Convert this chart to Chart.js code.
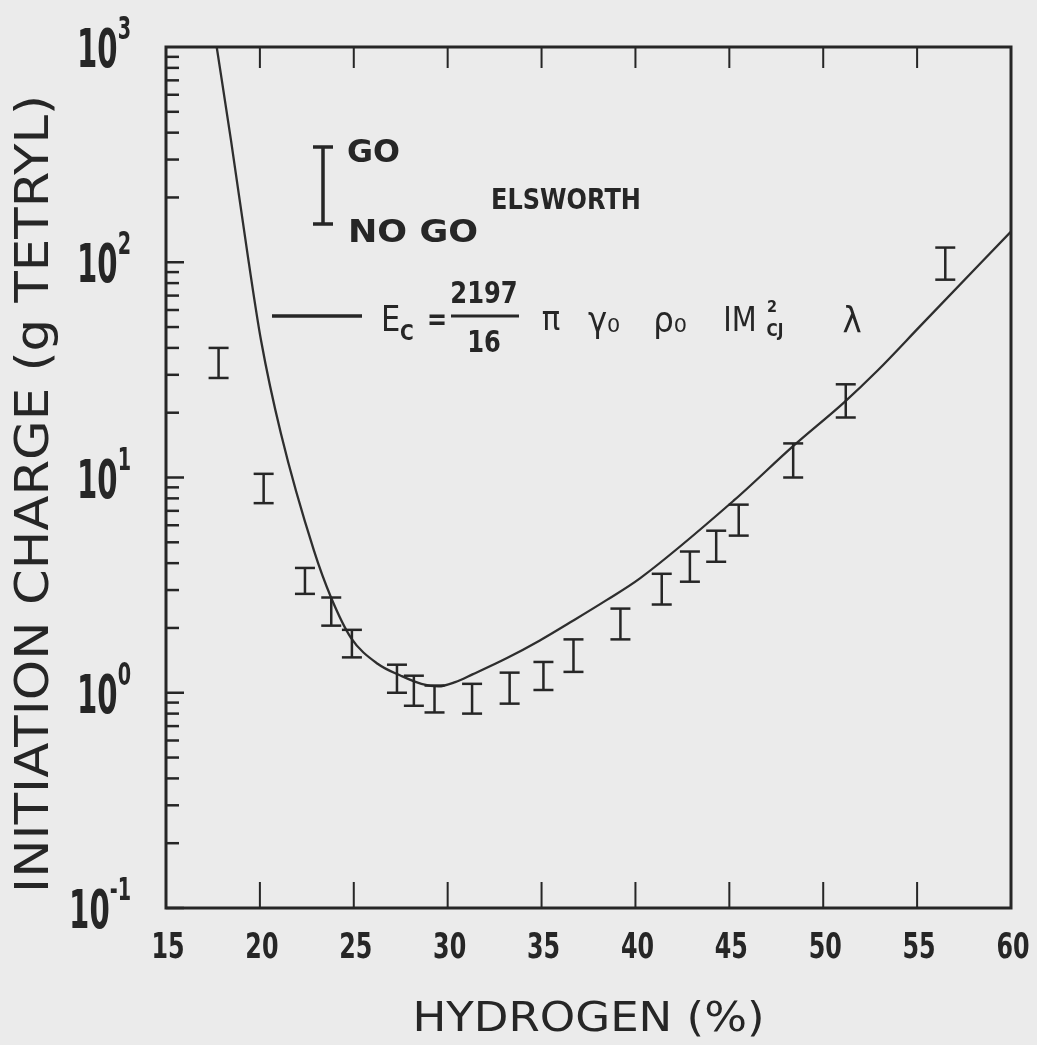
<!DOCTYPE html>
<html>
<head>
<meta charset="utf-8">
<script src="https://cdn.jsdelivr.net/npm/chart.js@4/dist/chart.umd.min.js"></script>
<style>
  html, body { margin: 0; padding: 0; background: #ebebeb; }
  #wrap { width: 1037px; height: 1045px; }
</style>
</head>
<body>
<div id="wrap"><canvas id="c" width="1037" height="1045"></canvas></div>
<script>
// ---- data ----
const xTickValues = [15, 20, 25, 30, 35, 40, 45, 50, 55, 60];
const yTickExponents = [-1, 0, 1, 2, 3];

// GO / NO GO error bars (hydrogen %, upper = GO, lower = NO GO, grams tetryl)
const barHydrogen = [17.8, 20.2, 22.4, 23.8, 24.9, 27.3, 28.2, 29.3, 31.3, 33.3, 35.1, 36.7, 39.2, 41.4, 42.9, 44.3, 45.5, 48.4, 51.2, 56.5];
const barGo       = [40, 10.4, 3.8, 2.77, 1.96, 1.35, 1.20, 1.08, 1.10, 1.24, 1.39, 1.77, 2.46, 3.57, 4.53, 5.66, 7.48, 14.4, 27.1, 117];
const barNoGo     = [29, 7.6, 2.88, 2.05, 1.46, 1.00, 0.87, 0.81, 0.80, 0.89, 1.03, 1.25, 1.77, 2.57, 3.28, 4.06, 5.37, 10.0, 19.0, 83];

// Elsworth model curve E_c
const curveHydrogen = [17.7, 18.46, 19.37, 20.06, 21.12, 22.88, 23.79, 24.85, 26.29, 27.51, 28.6, 29.5, 30.4, 31.35, 33.16, 34.91, 36.67, 38.48, 40.24, 45.24, 48.44, 51.10, 52.91, 55.2, 60];
const curveEnergy   = [1000, 369, 105, 43.4, 16.0, 4.57, 2.77, 1.80, 1.36, 1.20, 1.10, 1.07, 1.12, 1.22, 1.45, 1.75, 2.16, 2.70, 3.4, 7.82, 14.1, 22.3, 31.5, 50.9, 139];

const xTitle = 'HYDROGEN (%)';
const yTitle = 'INITIATION CHARGE (g TETRYL)';

// ---- build datasets ----
const barPoints = [];
barHydrogen.forEach((h, i) => {
  barPoints.push({ x: h, y: barNoGo[i] });
  barPoints.push({ x: h, y: barGo[i] });
  barPoints.push({ x: h, y: null });
});
const curvePoints = curveHydrogen.map((h, i) => ({ x: h, y: curveEnergy[i] }));

const INK = '#262626';
const FONT = '"DejaVu Sans", "Liberation Sans", sans-serif';

function txt(ctx, s, x, y, font, align, sx, targetW) {
  ctx.save();
  ctx.font = font;
  ctx.textAlign = align || 'left';
  ctx.textBaseline = 'alphabetic';
  let k = sx || 1;
  if (targetW) k = targetW / ctx.measureText(s).width;
  ctx.translate(x, y);
  ctx.scale(k, 1);
  ctx.fillText(s, 0, 0);
  ctx.restore();
}
function width(ctx, s, font) { ctx.save(); ctx.font = font; const w = ctx.measureText(s).width; ctx.restore(); return w; }

const decor = {
  id: 'decor',
  beforeDraw(chart) {
    const ctx = chart.ctx;
    ctx.save();
    ctx.fillStyle = '#ebebeb';
    ctx.fillRect(0, 0, chart.width, chart.height);
    ctx.restore();
  },
  afterDraw(chart) {
    const ctx = chart.ctx;
    const a = chart.chartArea;
    const xs = chart.scales.x, ys = chart.scales.y;
    ctx.save();
    ctx.strokeStyle = INK;
    ctx.fillStyle = INK;
    ctx.lineCap = 'butt';

    // frame
    ctx.lineWidth = 3;
    ctx.strokeRect(a.left, a.top, a.right - a.left, a.bottom - a.top);

    // x ticks (inward, bottom and top)
    ctx.lineWidth = 2;
    xTickValues.forEach(v => {
      if (v === xs.min || v === xs.max) return;
      const px = xs.getPixelForValue(v);
      ctx.beginPath();
      ctx.moveTo(px, a.bottom); ctx.lineTo(px, a.bottom - 26);
      ctx.moveTo(px, a.top); ctx.lineTo(px, a.top + 21);
      ctx.stroke();
    });
    // y ticks (inward, left, log minor)
    ctx.lineWidth = 2.5;
    for (let e = yTickExponents[0]; e < yTickExponents[yTickExponents.length - 1]; e++) {
      for (let m = 1; m <= 9; m++) {
        const v = m * Math.pow(10, e);
        const py = ys.getPixelForValue(v);
        const len = m === 1 ? 18 : 13;
        ctx.beginPath();
        ctx.moveTo(a.left, py); ctx.lineTo(a.left + len, py);
        ctx.stroke();
      }
    }

    // y tick labels 10^n
    const baseFont = 'bold 54px ' + FONT;
    const supFont = 'bold 32px ' + FONT;
    yTickExponents.forEach(e => {
      const py = ys.getPixelForValue(Math.pow(10, e));
      const sup = e < 0 ? '-' + Math.abs(e) : String(e);
      const supW = width(ctx, sup, supFont) * 0.6;
      const baseW = width(ctx, '10', baseFont) * 0.54;
      const right = a.left - 35;
      txt(ctx, '10', right - supW - baseW, py + 20, baseFont, 'left', 0.54);
      txt(ctx, sup, right - supW, py - 8, supFont, 'left', 0.6);
    });

    // x tick labels
    xTickValues.forEach(v => {
      const px = xs.getPixelForValue(v);
      txt(ctx, String(v), px + 2, a.bottom + 50, 'bold 35px ' + FONT, 'center', 0.68);
    });

    // axis titles
    txt(ctx, xTitle, (a.left + a.right) / 2, 1031, '40px ' + FONT, 'center', null, 352);
    ctx.save();
    ctx.translate(48, 494);
    ctx.rotate(-Math.PI / 2);
    txt(ctx, yTitle, 0, 0, '46px ' + FONT, 'center', null, 798);
    ctx.restore();

    // legend: GO / NO GO glyph
    const lx = a.left + 157;
    ctx.lineWidth = 3.5;
    ctx.beginPath();
    ctx.moveTo(lx, 147); ctx.lineTo(lx, 224);
    ctx.moveTo(lx - 10, 147); ctx.lineTo(lx + 10, 147);
    ctx.moveTo(lx - 10, 224); ctx.lineTo(lx + 10, 224);
    ctx.stroke();
    txt(ctx, 'GO', lx + 24, 162, 'bold 32px ' + FONT, 'left', null, 53);
    txt(ctx, 'NO GO', lx + 25, 242, 'bold 32px ' + FONT, 'left', null, 130);
    txt(ctx, 'ELSWORTH', a.left + 325, 209, 'bold 28px ' + FONT, 'left', null, 150);

    // legend: model line and formula
    ctx.lineWidth = 3.5;
    ctx.beginPath();
    ctx.moveTo(a.left + 106, 316); ctx.lineTo(a.left + 196, 316);
    ctx.stroke();
    txt(ctx, 'E', 381, 331, '36px ' + FONT, 'left', 0.85);
    txt(ctx, 'C', 400, 340, 'bold 22px ' + FONT, 'left', 0.85);
    txt(ctx, '=', 437, 329, 'bold 30px ' + FONT, 'center', 0.8);
    txt(ctx, '2197', 484, 303, 'bold 31px ' + FONT, 'center', 0.78);
    ctx.lineWidth = 3;
    ctx.beginPath();
    ctx.moveTo(451, 316); ctx.lineTo(519, 316);
    ctx.stroke();
    txt(ctx, '16', 484, 352, 'bold 31px ' + FONT, 'center', 0.78);
    txt(ctx, 'π', 551, 330, '34px ' + FONT, 'center', 0.9);
    txt(ctx, 'γ₀', 604, 332, '36px ' + FONT, 'center', 0.9);
    txt(ctx, 'ρ₀', 670, 332, '36px ' + FONT, 'center', 0.9);
    txt(ctx, 'IM', 740, 331, '34px ' + FONT, 'center', 0.85);
    txt(ctx, '2', 772, 312, 'bold 16px ' + FONT, 'center', 0.9);
    txt(ctx, 'CJ', 775, 336, 'bold 18px ' + FONT, 'center', 0.85);
    txt(ctx, 'λ', 852, 332, '36px ' + FONT, 'center', 0.9);

    ctx.restore();
  }
};

new Chart(document.getElementById('c'), {
  type: 'line',
  data: {
    datasets: [
      {
        label: 'GO / NO GO',
        data: barPoints,
        showLine: true,
        spanGaps: false,
        borderColor: INK,
        borderWidth: 2.5,
        pointStyle: 'line',
        pointRadius: 10,
        pointHoverRadius: 10,
        pointBorderWidth: 2.5,
        pointBorderColor: INK,
        pointBackgroundColor: INK
      },
      {
        label: 'Ec = 2197/16 π γ0 ρ0 IM²CJ λ',
        data: curvePoints,
        borderColor: '#2e2e2e',
        borderWidth: 2.3,
        pointRadius: 0,
        cubicInterpolationMode: 'monotone',
        fill: false
      }
    ]
  },
  options: {
    responsive: false,
    devicePixelRatio: 1,
    animation: false,
    events: [],
    layout: { padding: { top: 47, right: 26, left: 0, bottom: 0 } },
    plugins: { legend: { display: false }, tooltip: { enabled: false }, title: { display: false } },
    scales: {
      x: {
        type: 'linear', min: 15, max: 60,
        grid: { display: false }, border: { display: false },
        ticks: { display: false, stepSize: 5 },
        afterFit: s => { s.height = 137; }
      },
      y: {
        type: 'logarithmic', min: 0.1, max: 1000,
        grid: { display: false }, border: { display: false },
        ticks: { display: false },
        afterFit: s => { s.width = 166; }
      }
    }
  },
  plugins: [decor]
});
</script>
</body>
</html>
